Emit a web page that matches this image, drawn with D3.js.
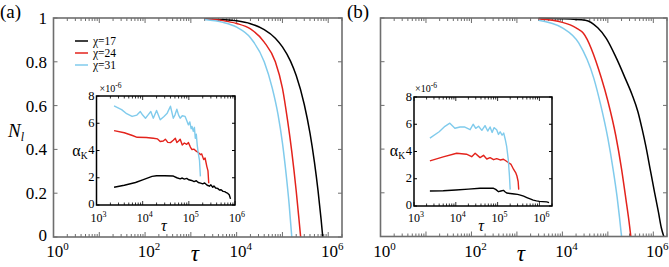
<!DOCTYPE html>
<html>
<head>
<meta charset="utf-8">
<script src="https://cdn.jsdelivr.net/npm/d3@7"></script>
<style>
  body { margin: 0; background: #fff; }
  svg { display: block; }
  text { font-family: "Liberation Serif", "Liberation Sans", sans-serif; }
</style>
</head>
<body>
<div id="chart"></div>
<script>
// series colours / legend
const chiLabels = ["χ=17", "χ=24", "χ=31"]
const lineColors = ["#000000", "#e3231c", "#80cbec"]

// main panel ticks
const mainYTicks = [0, 0.2, 0.4, 0.6, 0.8, 1]
const insetYTicks = [0, 2, 4, 6, 8]

// ---- panel (a), main: N_l vs tau ----
const tauA17 = [2e3, 5e3, 1e4, 2e4, 4e4, 7e4, 1e5, 1.5e5, 2e5, 3e5, 4e5, 5e5, 6e5, 7e5, 7.6e5]
const nA17   = [0.997, 0.993, 0.987, 0.974, 0.947, 0.908, 0.868, 0.803, 0.737, 0.605, 0.474, 0.342, 0.211, 0.079, 0]
const tauA24 = [2e3, 5e3, 1e4, 2e4, 4e4, 7e4, 1e5, 1.3e5, 1.6e5, 2e5, 2.3e5, 2.5e5]
const nA24   = [0.995, 0.988, 0.975, 0.95, 0.89, 0.80, 0.68, 0.53, 0.39, 0.21, 0.08, 0]
const tauA31 = [2e3, 5e3, 1e4, 2e4, 4e4, 6e4, 8e4, 1e5, 1.2e5, 1.4e5, 1.6e5]
const nA31   = [0.993, 0.98, 0.958, 0.91, 0.80, 0.68, 0.56, 0.43, 0.29, 0.15, 0]

// ---- panel (b), main ----
const tauB17 = [3e3, 1e4, 3.2e4, 6e4, 9.3e4, 1.55e5, 2.4e5, 3.4e5, 4.6e5, 5.7e5, 6.9e5, 8.5e5, 1.07e6, 1.3e6, 1.5e6, 1.7e6]
const nB17   = [0.999, 0.997, 0.99, 0.955, 0.906, 0.815, 0.725, 0.65, 0.57, 0.49, 0.41, 0.31, 0.20, 0.11, 0.04, 0]
const tauB24 = [3e3, 1e4, 2e4, 2.9e4, 7.2e4, 1e5, 1.5e5, 2e5, 2.5e5, 3e5, 3.2e5]
const nB24   = [0.995, 0.98, 0.955, 0.93, 0.725, 0.62, 0.46, 0.31, 0.17, 0.05, 0]
const tauB31 = [3e3, 1e4, 2.3e4, 4.9e4, 7e4, 1e5, 1.3e5, 1.6e5, 1.8e5, 2e5]
const nB31   = [0.99, 0.955, 0.885, 0.725, 0.60, 0.45, 0.31, 0.18, 0.09, 0]

// ---- inset (a): alpha_K (x1e-6) vs tau ----
const itA17 = [2.4e3, 4e3, 7e3, 1e4, 1.6e4, 2e4, 3e4, 4.5e4, 5.5e4, 6.5e4, 7.2e4, 8e4, 9e4, 1e5, 1.15e5, 1.3e5, 1.45e5, 1.6e5, 1.8e5, 2e5, 2.2e5, 2.5e5, 2.8e5, 3e5, 3.3e5, 3.5e5, 3.8e5, 4.2e5, 4.6e5, 5e5, 5.5e5, 6e5, 6.5e5, 7e5, 7.5e5, 8e5]
const iaA17 = [1.30, 1.45, 1.65, 1.85, 2.10, 2.15, 2.15, 2.13, 2.00, 1.92, 1.98, 1.90, 1.95, 1.85, 1.80, 1.72, 1.78, 1.65, 1.60, 1.55, 1.62, 1.45, 1.38, 1.48, 1.30, 1.40, 1.25, 1.22, 1.10, 1.12, 1.00, 0.98, 0.90, 0.85, 0.75, 0.45]
const itA24 = [2.4e3, 4e3, 6e3, 7.6e3, 1.2e4, 1.7e4, 2.1e4, 2.4e4, 2.8e4, 3.1e4, 3.5e4, 4e4, 4.6e4, 5.1e4, 5.5e4, 6e4, 6.5e4, 7.2e4, 8e4, 9e4, 9.8e4, 1.08e5, 1.17e5, 1.3e5, 1.45e5, 1.6e5, 1.78e5, 1.9e5, 2.1e5, 2.25e5, 2.45e5, 2.6e5, 2.7e5]
const iaA24 = [5.46, 5.30, 5.10, 4.97, 4.95, 4.90, 4.85, 4.66, 4.70, 4.83, 4.60, 4.58, 4.75, 4.90, 4.58, 4.70, 4.83, 4.40, 4.55, 4.45, 4.58, 4.25, 4.07, 4.10, 3.95, 3.85, 3.70, 3.75, 3.33, 3.45, 2.84, 2.50, 1.60]
const itA31 = [2.4e3, 3.5e3, 4.5e3, 5.9e3, 7.5e3, 8.9e3, 1.0e4, 1.15e4, 1.3e4, 1.5e4, 1.7e4, 2.0e4, 2.4e4, 2.9e4, 3.4e4, 4.0e4, 4.6e4, 5.0e4, 5.5e4, 6.0e4, 6.5e4, 7.2e4, 8.3e4, 9e4, 9.8e4, 1.05e5, 1.12e5, 1.17e5, 1.25e5, 1.32e5, 1.38e5, 1.45e5, 1.52e5, 1.6e5, 1.7e5, 1.78e5]
const iaA31 = [7.28, 7.00, 6.70, 6.50, 6.60, 6.86, 6.60, 6.37, 6.60, 6.86, 6.37, 6.94, 6.25, 6.50, 6.74, 7.25, 6.37, 6.60, 7.03, 6.60, 6.37, 6.55, 6.50, 6.20, 5.88, 6.10, 5.60, 5.76, 5.40, 5.70, 4.90, 5.20, 4.40, 3.80, 3.30, 2.10]

// ---- inset (b) ----
const itB17 = [2.4e3, 5e3, 1e4, 2e4, 3.8e4, 6e4, 8e4, 9e4, 1.05e5, 1.2e5, 1.38e5, 1.5e5, 1.65e5, 2e5, 2.5e5, 3e5, 3.5e5, 4.2e5, 5e5, 6e5, 7.1e5, 8.5e5, 1e6, 1.2e6, 1.5e6, 1.7e6]
const iaB17 = [1.10, 1.12, 1.17, 1.24, 1.30, 1.30, 1.30, 1.22, 1.05, 1.10, 1.15, 1.05, 0.95, 0.92, 0.88, 0.85, 0.80, 0.72, 0.62, 0.52, 0.43, 0.38, 0.34, 0.32, 0.30, 0.25]
const itB31 = [2.4e3, 4e3, 5.5e3, 7.2e3, 9.5e3, 1.26e4, 1.6e4, 2.2e4, 2.6e4, 3.0e4, 3.5e4, 4.2e4, 5e4, 5.8e4, 6.6e4, 7.4e4, 8.2e4, 9.5e4, 1.05e5, 1.15e5, 1.28e5, 1.4e5, 1.52e5, 1.65e5, 1.8e5, 1.92e5, 2e5]
const iaB31 = [4.98, 5.45, 5.85, 6.08, 5.71, 5.80, 5.80, 5.60, 6.00, 5.70, 5.85, 5.55, 5.90, 5.50, 5.80, 5.40, 5.75, 5.60, 5.25, 5.45, 5.20, 5.35, 4.90, 4.35, 3.40, 2.20, 1.20]
const itB24 = [2.4e3, 5e3, 1.05e4, 1.8e4, 2.4e4, 2.9e4, 3.8e4, 4.6e4, 5.5e4, 6.6e4, 8e4, 9.5e4, 1.15e5, 1.38e5, 1.6e5, 1.8e5, 2.1e5, 2.4e5, 2.7e5, 2.9e5, 3.1e5, 3.2e5]
const iaB24 = [3.31, 3.60, 3.87, 3.80, 3.62, 3.87, 3.55, 3.72, 3.45, 3.55, 3.40, 3.48, 3.38, 3.43, 3.30, 3.19, 3.05, 2.70, 2.45, 2.20, 1.80, 1.20]

const W = 669, H = 267
const svg = d3.select("#chart").append("svg")
  .attr("width", W).attr("height", H)

// superscript helper: base text + raised exponent
function supText(sel, base, sup, supSize, dy) {
  sel.append("tspan").text(base)
  sel.append("tspan").attr("dy", -dy).attr("font-size", supSize).text(sup)
}

function drawMain(cfg) {
  const x = d3.scaleLog().domain([1, 2e6]).range([cfg.left, cfg.right])
  const y = d3.scaleLinear().domain([0, 1]).range([cfg.bottom, cfg.top])
  const g = svg.append("g")
  const frame = "#6e6e6e"

  // log minor + major ticks on bottom and top, inward
  x.ticks().forEach(t => {
    const major = Math.abs(Math.log10(t) - Math.round(Math.log10(t))) < 1e-9
    const len = major ? 5 : 3
    ;[[cfg.bottom, -len], [cfg.top, len]].forEach(([yy, d]) => {
      g.append("line").attr("x1", x(t)).attr("x2", x(t))
        .attr("y1", yy).attr("y2", yy + d)
        .attr("stroke", frame).attr("stroke-width", 1)
    })
  })
  // y ticks left/right
  mainYTicks.forEach(t => {
    g.append("line").attr("x1", cfg.left).attr("x2", cfg.left + 4)
      .attr("y1", y(t)).attr("y2", y(t)).attr("stroke", frame)
    g.append("line").attr("x1", cfg.right).attr("x2", cfg.right - 4)
      .attr("y1", y(t)).attr("y2", y(t)).attr("stroke", frame)
  })

  // curves
  const line = d3.line()
    .curve(d3.curveMonotoneX)
    .x(d => x(d[0])).y(d => y(d[1]))
  cfg.series.forEach((s, i) => {
    g.append("path")
      .datum(s[0].map((t, k) => [t, s[1][k]]))
      .attr("fill", "none").attr("stroke", lineColors[i])
      .attr("stroke-width", 1.5)
      .attr("d", line)
  })

  // frame
  g.append("rect").attr("x", cfg.left).attr("y", cfg.top)
    .attr("width", cfg.right - cfg.left).attr("height", cfg.bottom - cfg.top)
    .attr("fill", "none").attr("stroke", frame).attr("stroke-width", 1.6)

  // x tick labels
  ;[1, 1e2, 1e4, 1e6].forEach(t => {
    const txt = g.append("text").attr("x", x(t) + 4).attr("y", 257)
      .attr("text-anchor", "middle").attr("font-size", 17)
    supText(txt, "10", String(Math.round(Math.log10(t))), 11, 7)
  })
  // x label
  g.append("text").attr("x", (cfg.left + cfg.right) / 2 - 3).attr("y", 261)
    .attr("text-anchor", "middle").attr("font-size", 23)
    .attr("font-style", "italic").text("τ")

  return {x, y, g}
}

function drawInset(cfg) {
  const x = d3.scaleLog().domain(cfg.xDomain).range([cfg.left, cfg.right])
  const y = d3.scaleLinear().domain([0, 8]).range([cfg.bottom, cfg.top])
  const g = svg.append("g")

  x.ticks().forEach(t => {
    if (t > cfg.xDomain[1]) return
    const major = Math.abs(Math.log10(t) - Math.round(Math.log10(t))) < 1e-9
    const len = major ? 4 : 2.5
    ;[[cfg.bottom, -len], [cfg.top, len]].forEach(([yy, d]) => {
      g.append("line").attr("x1", x(t)).attr("x2", x(t))
        .attr("y1", yy).attr("y2", yy + d)
        .attr("stroke", "#000").attr("stroke-width", 0.8)
    })
  })
  insetYTicks.forEach(t => {
    g.append("line").attr("x1", cfg.left).attr("x2", cfg.left + 3)
      .attr("y1", y(t)).attr("y2", y(t)).attr("stroke", "#000")
    g.append("line").attr("x1", cfg.right).attr("x2", cfg.right - 3)
      .attr("y1", y(t)).attr("y2", y(t)).attr("stroke", "#000")
    g.append("text").attr("x", cfg.left - 2).attr("y", y(t) + (t === 0 ? 2.5 : 3.5))
      .attr("text-anchor", "end").attr("font-size", 12.5).text(t)
  })

  const line = d3.line().x(d => x(d[0])).y(d => y(d[1]))
  cfg.series.forEach((s, i) => {
    g.append("path")
      .datum(s[0].map((t, k) => [t, s[1][k]]))
      .attr("fill", "none").attr("stroke", lineColors[i])
      .attr("stroke-width", 1.4).attr("stroke-linejoin", "round")
      .attr("d", line)
  })

  g.append("rect").attr("x", cfg.left).attr("y", cfg.top)
    .attr("width", cfg.right - cfg.left).attr("height", cfg.bottom - cfg.top)
    .attr("fill", "none").attr("stroke", "#000").attr("stroke-width", 1.5)

  ;[1e3, 1e4, 1e5, 1e6].forEach(t => {
    const txt = g.append("text").attr("x", x(t) + 2).attr("y", 222)
      .attr("text-anchor", "middle").attr("font-size", 12)
    supText(txt, "10", String(Math.round(Math.log10(t))), 8, 5)
  })
  g.append("text").attr("x", (cfg.left + cfg.right) / 2 - 2).attr("y", 231)
    .attr("text-anchor", "middle").attr("font-size", 16)
    .attr("font-style", "italic").text("τ")

  // x10^-6 multiplier
  const m = g.append("text").attr("x", cfg.left + cfg.mulDx).attr("y", 92)
    .attr("font-size", 10)
  supText(m, "×10", "-6", 7.5, 4)

  // alpha_K label
  const a = g.append("text").attr("x", cfg.left - 9).attr("y", 156)
    .attr("text-anchor", "end").attr("font-size", 16)
  a.append("tspan").text("α")
  a.append("tspan").attr("dy", 3).attr("font-size", 9.5).text("K")
}

// panel (a)
drawMain({left: 53.5, right: 342, top: 18, bottom: 237,
  series: [[tauA17, nA17], [tauA24, nA24], [tauA31, nA31]]})
drawInset({left: 96.5, right: 235, top: 96, bottom: 205, xDomain: [1e3, 1e6], mulDx: 3,
  series: [[itA17, iaA17], [itA24, iaA24], [itA31, iaA31]]})

// panel (b)
drawMain({left: 380.5, right: 667, top: 18, bottom: 236.5,
  series: [[tauB17, nB17], [tauB24, nB24], [tauB31, nB31]]})
drawInset({left: 414, right: 552, top: 97, bottom: 206, xDomain: [1e3, 2e6], mulDx: 1,
  series: [[itB17, iaB17], [itB24, iaB24], [itB31, iaB31]]})

// y tick labels of panel (a) main axis
const yA = d3.scaleLinear().domain([0, 1]).range([237, 18])
mainYTicks.forEach(t => {
  svg.append("text").attr("x", 47).attr("y", t === 0 ? yA(t) + 4 : yA(t) + 6)
    .attr("text-anchor", "end").attr("font-size", 17).text(t)
})

// N_l label
const nl = svg.append("text").attr("x", 8).attr("y", 137).attr("font-size", 19)
  .attr("font-style", "italic")
nl.append("tspan").text("N")
nl.append("tspan").attr("dy", 4).attr("font-size", 12).text("l")

// panel letters
svg.append("text").attr("x", 0).attr("y", 18).attr("font-size", 19).text("(a)")
svg.append("text").attr("x", 347).attr("y", 18).attr("font-size", 19).text("(b)")

// legend
chiLabels.forEach((lab, i) => {
  const yy = 41 + i * 12
  svg.append("line").attr("x1", 75).attr("x2", 88).attr("y1", yy).attr("y2", yy)
    .attr("stroke", lineColors[i]).attr("stroke-width", 1.5)
  svg.append("text").attr("x", 93).attr("y", yy + 4).attr("font-size", 11.5).text(lab)
})
</script>
</body>
</html>
